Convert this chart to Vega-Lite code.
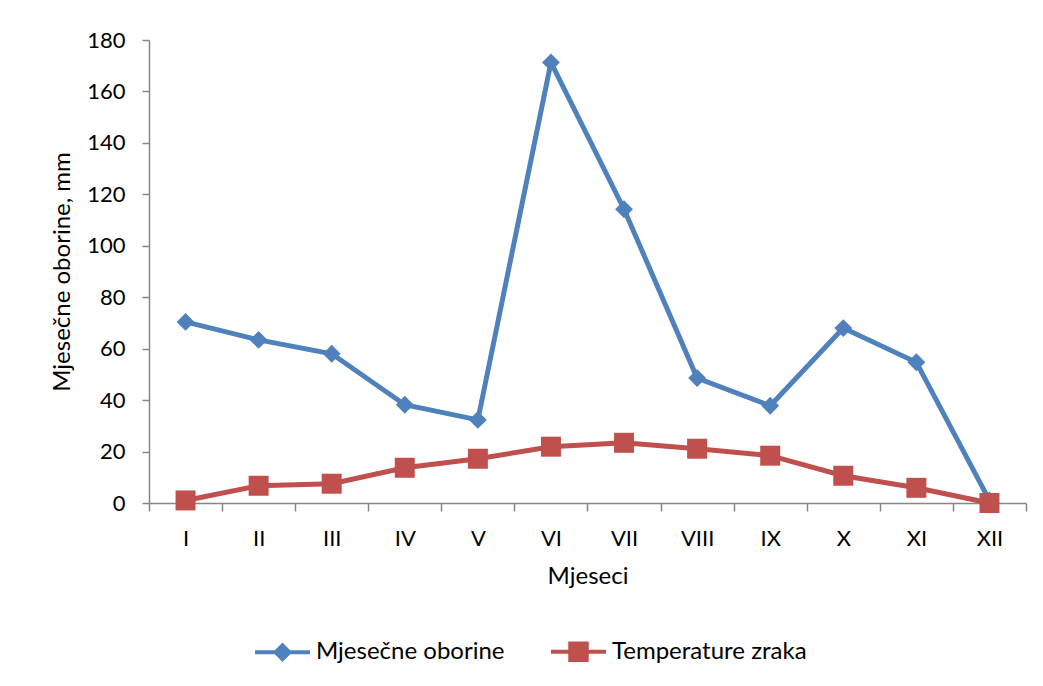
{
  "$schema": "https://vega.github.io/schema/vega-lite/v6.json",
  "width": 877,
  "height": 463,
  "autosize": {"type": "none"},
  "padding": {"left": 149, "top": 40, "right": 17, "bottom": 183},
  "background": "white",
  "config": {
    "font": "Lato",
    "view": {"stroke": null},
    "axis": {"labelFont": "Lato", "titleFont": "Lato", "labelColor": "black", "titleColor": "black", "titleFontWeight": "normal"}
  },
  "data": {
    "values": [
      {"m": "I", "s": "Mjesečne oborine", "v": 70.4},
      {"m": "II", "s": "Mjesečne oborine", "v": 63.4},
      {"m": "III", "s": "Mjesečne oborine", "v": 58},
      {"m": "IV", "s": "Mjesečne oborine", "v": 38.2},
      {"m": "V", "s": "Mjesečne oborine", "v": 32.3},
      {"m": "VI", "s": "Mjesečne oborine", "v": 171.3},
      {"m": "VII", "s": "Mjesečne oborine", "v": 114.2},
      {"m": "VIII", "s": "Mjesečne oborine", "v": 48.6},
      {"m": "IX", "s": "Mjesečne oborine", "v": 37.8},
      {"m": "X", "s": "Mjesečne oborine", "v": 68},
      {"m": "XI", "s": "Mjesečne oborine", "v": 54.7},
      {"m": "XII", "s": "Mjesečne oborine", "v": 1},
      {"m": "I", "s": "Temperature zraka", "v": 1},
      {"m": "II", "s": "Temperature zraka", "v": 6.7},
      {"m": "III", "s": "Temperature zraka", "v": 7.5},
      {"m": "IV", "s": "Temperature zraka", "v": 13.7},
      {"m": "V", "s": "Temperature zraka", "v": 17.2},
      {"m": "VI", "s": "Temperature zraka", "v": 21.9},
      {"m": "VII", "s": "Temperature zraka", "v": 23.4},
      {"m": "VIII", "s": "Temperature zraka", "v": 21.1},
      {"m": "IX", "s": "Temperature zraka", "v": 18.4},
      {"m": "X", "s": "Temperature zraka", "v": 10.6},
      {"m": "XI", "s": "Temperature zraka", "v": 5.9},
      {"m": "XII", "s": "Temperature zraka", "v": 0}
    ]
  },
  "encoding": {
    "x": {
      "field": "m", "type": "ordinal", "bandPosition": 0.5,
      "sort": ["I","II","III","IV","V","VI","VII","VIII","IX","X","XI","XII"],
      "scale": {"type": "band", "paddingInner": 0, "paddingOuter": 0},
      "axis": {
        "title": "Mjeseci", "labelAngle": 0, "tickBand": "extent",
        "domainColor": "#868686", "tickColor": "#868686", "domainWidth": 1.5, "tickWidth": 1.5,
        "tickSize": 8, "labelPadding": 17, "labelFontSize": 22, "titleFontSize": 24, "titlePadding": 15
      }
    },
    "y": {
      "field": "v", "type": "quantitative",
      "scale": {"domain": [0, 180], "nice": false},
      "axis": {
        "title": "Mjesečne oborine, mm", "values": [0,20,40,60,80,100,120,140,160,180], "grid": false,
        "domainColor": "#868686", "tickColor": "#868686", "domainWidth": 1.5, "tickWidth": 1.5,
        "tickSize": 7, "labelPadding": 17, "labelFontSize": 22, "titleFontSize": 24, "titlePadding": 12
      }
    },
    "color": {
      "field": "s", "type": "nominal",
      "scale": {"domain": ["Mjesečne oborine", "Temperature zraka"], "range": ["#4F81BD", "#C0504D"]},
      "legend": {
        "title": null, "orient": "none", "direction": "horizontal",
        "legendX": 104, "legendY": 582, "padding": 0,
        "symbolSize": 3025, "labelFontSize": 24, "labelFont": "Lato", "labelColor": "black",
        "labelLimit": 400, "labelOffset": 4, "columnPadding": 38,
        "symbolStrokeWidth": 4, "symbolOpacity": 1,
        "encode": {
          "symbols": {
            "update": {
              "shape": {"signal": "datum.value === 'Mjesečne oborine' ? 'M-1,0L1,0M0,-0.25L0.25,0L0,0.25L-0.25,0Z' : 'M-1,0L1,0M-0.3,-0.3L0.3,-0.3L0.3,0.3L-0.3,0.3Z'"},
              "fill": {"signal": "scale('color', datum.value)"},
              "stroke": {"signal": "scale('color', datum.value)"},
              "strokeWidth": {"value": 4},
              "opacity": {"value": 1},
              "fillOpacity": {"value": 1},
              "strokeOpacity": {"value": 1}
            }
          }
        }
      }
    }
  },
  "layer": [
    {
      "mark": {"type": "line", "strokeWidth": 5}
    },
    {
      "transform": [{"filter": "datum.s === 'Mjesečne oborine'"}],
      "mark": {"type": "point", "filled": true, "opacity": 1, "shape": "diamond", "size": 320}
    },
    {
      "transform": [{"filter": "datum.s === 'Temperature zraka'"}],
      "mark": {"type": "point", "filled": true, "opacity": 1, "shape": "square", "size": 400}
    }
  ]
}
